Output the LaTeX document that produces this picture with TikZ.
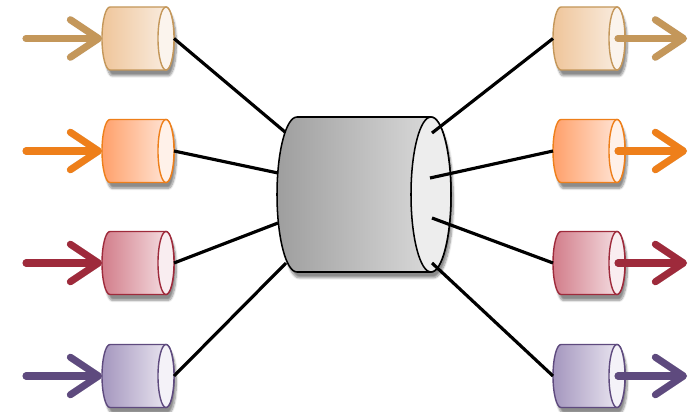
\documentclass[tikz,border=0pt]{standalone}
\usetikzlibrary{arrows.meta,shadows.blur}
\definecolor{tanline}{HTML}{C4975A}
\definecolor{tandark}{HTML}{EFC59A}
\definecolor{tanlight}{HTML}{FAF0E6}
\definecolor{orangeline}{HTML}{EE7F1A}
\definecolor{orangedark}{HTML}{FFA06A}
\definecolor{orangelight}{HTML}{FFEBE0}
\definecolor{redline}{HTML}{9E2A3B}
\definecolor{reddark}{HTML}{D27D8A}
\definecolor{redlight}{HTML}{F7E6E9}
\definecolor{purpleline}{HTML}{5E4A7E}
\definecolor{purpledark}{HTML}{A496BE}
\definecolor{purplelight}{HTML}{F0EDF5}

\tikzset{
  pics/smallcyl/.style n args={3}{code={
    \draw[#1,line width=1.2pt,left color=#2,right color=#3,
          blur shadow={shadow xshift=2pt,shadow yshift=-5pt,shadow blur steps=8,shadow opacity=45}]
      (28,31.5) -- (-28,31.5) arc[start angle=90,end angle=270,x radius=8,y radius=31.5]
      -- (28,-31.5) arc[start angle=-90,end angle=90,x radius=8,y radius=31.5] -- cycle;
    \draw[#1,line width=1.2pt,fill=#3!70!white] (28,0) ellipse[x radius=8,y radius=31.5];
    \coordinate (-w) at (-36,0);
    \coordinate (-e) at (36,0);
    \coordinate (-face) at (29,0);
  }}
}

\begin{document}
\begin{tikzpicture}[x=0.03cm,y=0.03cm,
    flow/.style={line width=6pt,line cap=round,-{Straight Barb[round,length=24pt,width=32pt]}},
    flowshadow/.style={flow,black,opacity=0.15,shift={(3,-6)}},
    link/.style={line width=2.7pt,black}]
  \useasboundingbox (0,0) rectangle (691,411);

  % central cylinder
  \draw[line width=1.3pt,left color=black!38,right color=black!12,
        blur shadow={shadow xshift=2pt,shadow yshift=-5pt,shadow blur steps=8,shadow opacity=45}]
    (431,294) -- (297,294) arc[start angle=90,end angle=270,x radius=20,y radius=77.5]
    -- (431,139) arc[start angle=-90,end angle=90,x radius=20,y radius=77.5] -- cycle;
  \draw[line width=1.3pt,fill=black!7] (431,216.5) ellipse[x radius=20,y radius=77.5];

  \coordinate (hub-l1) at (285,279);
  \coordinate (hub-l2) at (278,238);
  \coordinate (hub-l3) at (278,188);
  \coordinate (hub-l4) at (286,148);
  \coordinate (hub-r1) at (432,278);
  \coordinate (hub-r2) at (430,233);
  \coordinate (hub-r3) at (432,193);
  \coordinate (hub-r4) at (432,148);

  % small cylinders
  \pic (in1) at (138,372.5) {smallcyl={tanline}{tandark}{tanlight}};
  \pic (in2) at (138,260) {smallcyl={orangeline}{orangedark}{orangelight}};
  \pic (in3) at (138,148) {smallcyl={redline}{reddark}{redlight}};
  \pic (in4) at (138,35) {smallcyl={purpleline}{purpledark}{purplelight}};
  \pic (out1) at (589,372.5) {smallcyl={tanline}{tandark}{tanlight}};
  \pic (out2) at (589,260) {smallcyl={orangeline}{orangedark}{orangelight}};
  \pic (out3) at (589,148) {smallcyl={redline}{reddark}{redlight}};
  \pic (out4) at (589,35) {smallcyl={purpleline}{purpledark}{purplelight}};

  % links
  \draw[link] (in1-e) -- (hub-l1);
  \draw[link] (in2-e) -- (hub-l2);
  \draw[link] (in3-e) -- (hub-l3);
  \draw[link] (in4-e) -- (hub-l4);
  \draw[link] (hub-r1) -- (out1-w);
  \draw[link] (hub-r2) -- (out2-w);
  \draw[link] (hub-r3) -- (out3-w);
  \draw[link] (hub-r4) -- (out4-w);

  % input arrows
  \coordinate (src1) at (26,372.5);
  \coordinate (src2) at (26,260);
  \coordinate (src3) at (26,148);
  \coordinate (src4) at (26,35);
  \draw[flowshadow] (src1) -- (in1-w);
  \draw[flowshadow] (src2) -- (in2-w);
  \draw[flowshadow] (src3) -- (in3-w);
  \draw[flowshadow] (src4) -- (in4-w);
  \draw[flow,tanline] (src1) -- (in1-w);
  \draw[flow,orangeline] (src2) -- (in2-w);
  \draw[flow,redline] (src3) -- (in3-w);
  \draw[flow,purpleline] (src4) -- (in4-w);

  % output arrows
  \coordinate (snk1) at (687,372.5);
  \coordinate (snk2) at (687,260);
  \coordinate (snk3) at (687,148);
  \coordinate (snk4) at (687,35);
  \draw[flowshadow] (out1-face) -- (snk1);
  \draw[flowshadow] (out2-face) -- (snk2);
  \draw[flowshadow] (out3-face) -- (snk3);
  \draw[flowshadow] (out4-face) -- (snk4);
  \draw[flow,tanline] (out1-face) -- (snk1);
  \draw[flow,orangeline] (out2-face) -- (snk2);
  \draw[flow,redline] (out3-face) -- (snk3);
  \draw[flow,purpleline] (out4-face) -- (snk4);
\end{tikzpicture}
\end{document}
